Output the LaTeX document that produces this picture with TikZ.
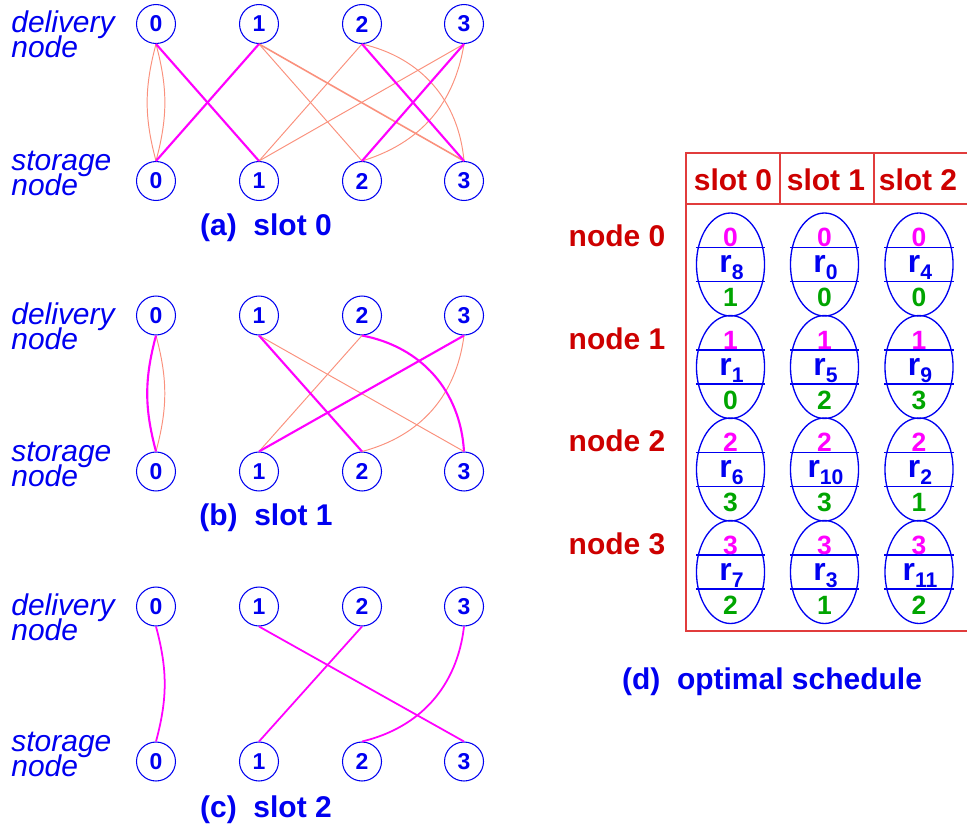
\documentclass[tikz,border=0pt]{standalone}
\usepackage{fontspec}
\setmainfont{Liberation Sans}
\usetikzlibrary{shapes.geometric}

\definecolor{inkblue}{RGB}{0,0,240}
\definecolor{hotpink}{RGB}{255,0,255}
\definecolor{peach}{RGB}{250,145,125}
\definecolor{darkred}{RGB}{205,0,0}
\definecolor{framered}{RGB}{225,60,60}
\definecolor{leafgreen}{RGB}{0,165,0}

\newcommand\setfs[2]{\fontsize{#1}{#2}\selectfont}

\begin{document}
\begin{tikzpicture}[x=0.567pt,y=-0.567pt,
  vtx/.style={circle,draw=inkblue,line width=0.6pt,minimum size=22.1pt,
    inner sep=0pt,text=inkblue,font=\bfseries\setfs{13}{13}},
  sidelabel/.style={anchor=west,align=left,inner sep=0pt,text=inkblue,
    font={\itshape\setfs{17}{14.2}\lineskiplimit=-20pt}},
  caption/.style={text=inkblue,font=\bfseries\setfs{17}{17},inner sep=0pt},
  hot/.style={draw=hotpink,line width=1.2pt},
  hotmid/.style={draw=hotpink,line width=1pt},
  cool/.style={draw=peach,line width=0.55pt},
  frame/.style={draw=framered,line width=0.7pt},
  redtxt/.style={text=darkred,font=\bfseries\setfs{17}{17},inner sep=0pt},
  cell/.style={ellipse,draw=inkblue,line width=0.75pt,minimum width=38.6pt,
    minimum height=58.4pt,inner sep=0pt},
  divider/.style={draw=inkblue,line width=0.6pt},
  srcdig/.style={anchor=base,inner sep=0pt,text=hotpink,font=\bfseries\setfs{15}{15}},
  dstdig/.style={anchor=base,inner sep=0pt,text=leafgreen,font=\bfseries\setfs{15}{15}},
  reqtxt/.style={anchor=base,inner sep=0pt,text=inkblue,font=\bfseries\setfs{18}{18}},
]
\useasboundingbox (0,0) rectangle (967,834);

% ---- three bipartite slot graphs ----
\foreach \p/\ty/\by/\cy/\lab in {a/24/181/228/{(a)~~slot 0},
                                 b/315.5/471.5/518/{(b)~~slot 1},
                                 c/606.5/761.5/810/{(c)~~slot 2}} {
  \foreach \i/\x in {0/156,1/259,2/362,3/464} {
    \node[vtx] (\p d\i) at (\x,\ty) {\i};
    \node[vtx] (\p s\i) at (\x,\by) {\i};
  }
  \node[sidelabel] (\p dl) at (11,\ty+10.5) {delivery\\node};
  \node[sidelabel] (\p sl) at (11,\by-7.5) {storage\\node};
  \node[caption] (\p cap) at (266,\cy) {\lab};
}

% slot 0: candidate links and chosen links
\draw[cool] (ad0.south) to[bend right=15] (as0.north);
\draw[cool] (ad0.south) to[bend left=15] (as0.north);
\draw[cool] (ad1.south) -- (as2.north);
\draw[cool,line width=0.9pt] (ad1.south) -- (as3.north);
\draw[cool] (ad2.south) -- (as1.north);
\draw[cool] (ad2.south) to[bend left=36] (as3.north);
\draw[cool] (ad3.south) -- (as1.north);
\draw[cool] (ad3.south) to[bend left=32] (as2.north);
\draw[hot] (ad0.south) -- (as1.north);
\draw[hot] (ad1.south) -- (as0.north);
\draw[hot] (ad2.south) -- (as3.north);
\draw[hot] (ad3.south) -- (as2.north);

% slot 1
\draw[cool] (bd0.south) to[bend left=15] (bs0.north);
\draw[cool] (bd1.south) -- (bs3.north);
\draw[cool] (bd2.south) -- (bs1.north);
\draw[cool] (bd3.south) to[bend left=34] (bs2.north);
\draw[hot] (bd0.south) to[bend right=15] (bs0.north);
\draw[hot] (bd1.south) -- (bs2.north);
\draw[hot] (bd2.south) to[bend left=38] (bs3.north);
\draw[hot] (bd3.south) -- (bs1.north);

% slot 2
\draw[hotmid] (cd0.south) to[bend left=15] (cs0.north);
\draw[hotmid] (cd1.south) -- (cs3.north);
\draw[hotmid] (cd2.south) -- (cs1.north);
\draw[hotmid] (cd3.south) to[bend left=35] (cs2.north);

% ---- schedule table ----
\draw[frame] (967,153) -- (686,153) -- (686,631) -- (967,631);
\draw[frame] (686,204) -- (967,204);
\draw[frame] (780,153) -- (780,204);
\draw[frame] (874,153) -- (874,204);
\node[redtxt] (h0) at (733,180) {slot 0};
\node[redtxt] (h1) at (826,180) {slot 1};
\node[redtxt] (h2) at (918,180) {slot 2};

\foreach \row/\ry/\ra/\da/\rb/\db/\rc/\dc in
   {0/264.5/8/1/0/0/4/0, 1/367/1/0/5/2/9/3,
    2/469.5/6/3/10/3/2/1, 3/572/7/2/3/1/11/2} {
  \node[redtxt,anchor=base] (nl\row) at (617,\ry-18) {node \row};
  \foreach \col/\cx/\rq/\dq in {0/730.5/\ra/\da, 1/824.5/\rb/\db, 2/919/\rc/\dc} {
    \node[cell] (e\row\col) at (\cx,\ry) {};
    \draw[divider] ([yshift=9.64pt]e\row\col.west) -- ([yshift=9.64pt]e\row\col.east);
    \draw[divider] ([yshift=-9.64pt]e\row\col.west) -- ([yshift=-9.64pt]e\row\col.east);
    \node[srcdig] (t\row\col) at (\cx,\ry-18) {\row};
    \node[reqtxt] (r\row\col) at (\cx+1,\ry+8) {r\raisebox{-4pt}{\setfs{12}{12}\rq}};
    \node[dstdig] (b\row\col) at (\cx,\ry+42) {\dq};
  }
}

\node[caption] (dcap) at (772,682) {(d)~~optimal schedule};
\end{tikzpicture}
\end{document}
